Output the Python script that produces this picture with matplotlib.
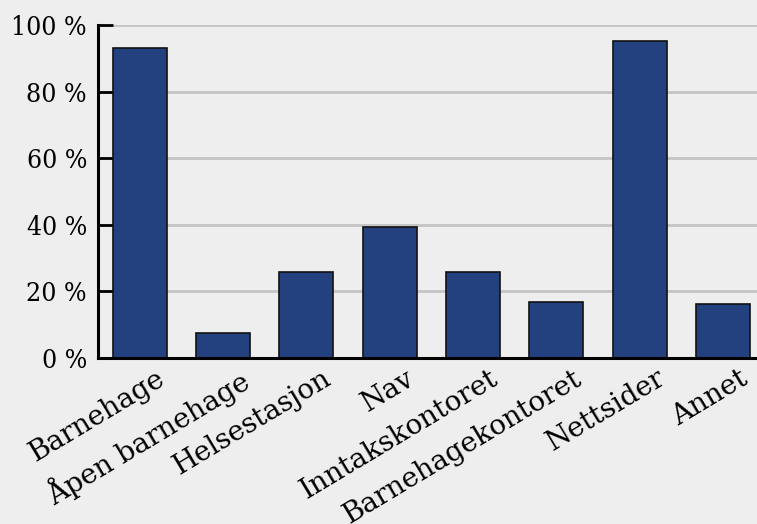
import matplotlib
matplotlib.use("Agg")
import matplotlib.pyplot as plt
from matplotlib.ticker import FuncFormatter
import matplotlib.transforms as mtrans
from matplotlib import font_manager as fm

categories = ["Barnehage", "Åpen barnehage", "Helsestasjon", "Nav",
              "Inntakskontoret", "Barnehagekontoret", "Nettsider", "Annet"]
values = [93.1, 7.4, 25.7, 39.3, 25.9, 16.7, 95.2, 16.1]
yticks = [0, 20, 40, 60, 80, 100]

W, H = 757, 524
fig = plt.figure(figsize=(W / 100, H / 100), dpi=100)
bg = "#eeeeee"
fig.patch.set_facecolor(bg)
x0, x1, y0, y1 = 98, 764.7, 358, 25
ax = fig.add_axes([x0 / W, (H - y0) / H, (x1 - x0) / W, (y0 - y1) / H])
ax.set_facecolor(bg)

fp_y = fm.FontProperties(family="DejaVu Serif", stretch="condensed", size=19)
fp_x = fm.FontProperties(family="DejaVu Serif", size=20)

xs = list(range(len(categories)))
ax.bar(xs, values, width=0.645, color="#23417f", edgecolor="#111111",
       linewidth=1.2, zorder=3)
ax.set_xlim(-0.5, len(categories) - 0.5)
ax.set_ylim(0, 100)
ax.set_yticks(yticks)
ax.yaxis.set_major_formatter(FuncFormatter(lambda v, p: f"{int(v)} %"))
ax.grid(axis="y", color="#c4c4c4", linewidth=2, zorder=0)
ax.set_axisbelow(True)
for s in ["top", "right"]:
    ax.spines[s].set_visible(False)
for s in ["left", "bottom"]:
    ax.spines[s].set_linewidth(2.2)
    ax.spines[s].set_color("black")
    ax.spines[s].set_zorder(4)
ax.tick_params(axis="y", direction="in", length=11, width=2, pad=8,
               colors="black")
ax.tick_params(axis="x", length=0, pad=2)
ax.set_xticks(xs)
ax.set_xticklabels(categories, rotation=31, ha="right",
                   rotation_mode="anchor", fontproperties=fp_x)
for lab in ax.get_yticklabels():
    lab.set_fontproperties(fp_y)

offset = mtrans.ScaledTranslation(16 / 100, -4 / 100, fig.dpi_scale_trans)
for lab in ax.get_xticklabels():
    lab.set_transform(lab.get_transform() + offset)

fig.savefig("out.png", dpi=100, facecolor=bg)
